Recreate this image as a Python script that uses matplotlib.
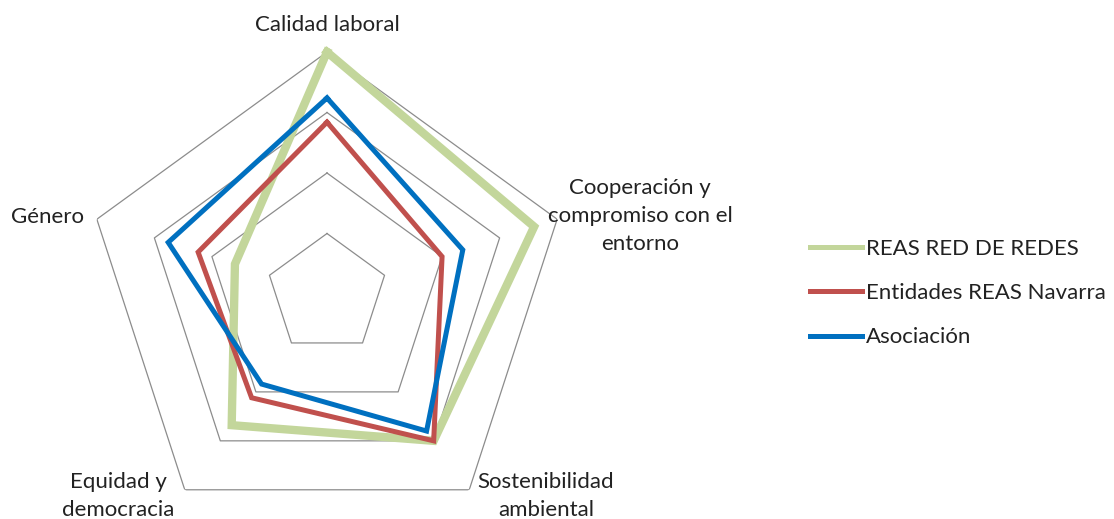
import numpy as np
import matplotlib
matplotlib.use("Agg")
import matplotlib.pyplot as plt

categories = ["Calidad laboral", "Cooperación y\ncompromiso con el\nentorno",
              "Sostenibilidad\nambiental", "Equidad y\ndemocracia", "Género"]
series_names = ["REAS RED DE REDES", "Entidades REAS Navarra", "Asociación"]
reas_red = [100, 90, 75, 67, 40]
navarra = [71, 50, 75, 53, 56]
asociacion = [81, 59, 70, 46, 69]
ring_values = [25, 50, 75, 100]

colors = ["#C3D69B", "#C0504D", "#0070C0"]
widths = [6, 3.6, 3.6]

plt.rcParams['font.family'] = ['Lato', 'DejaVu Sans']

W, H = 1114, 519
fig = plt.figure(figsize=(W / 100, H / 100), dpi=100)
cx, cy, R = 327, 294, 242
ax = fig.add_axes([(cx - R) / W, (H - cy - R) / H, 2 * R / W, 2 * R / H], projection='polar')
ax.set_theta_offset(np.pi / 2)
ax.set_theta_direction(-1)
ax.set_ylim(0, 100)
ax.set_frame_on(False)
ax.grid(False)
ax.set_xticks([])
ax.set_yticks([])
ax.patch.set_alpha(0)

n = len(categories)
theta = np.arange(n) * 2 * np.pi / n
tc = np.append(theta, theta[0])

for rv in ring_values:
    ax.plot(tc, [rv] * (n + 1), color="#8C8C8C", lw=0.9, zorder=1)

handles = []
for vals, name, c, w in zip([reas_red, navarra, asociacion], series_names, colors, widths):
    v = np.append(vals, vals[0])
    h, = ax.plot(tc, v, color=c, lw=w, solid_joinstyle='miter', zorder=3, label=name, clip_on=False)
    handles.append(h)

fs = 16
label_pos = [(327, 25), (640, 216), (546, 496), (118, 496), (48, 217)]
for lab, (x, y) in zip(categories, label_pos):
    fig.text(x / W, 1 - y / H, lab, ha='center', va='center', fontsize=fs, color="#222222",
             linespacing=1.5)

leg = fig.legend(handles=handles, labels=series_names, loc='center left',
                 bbox_to_anchor=(810 / W, 1 - 293 / H), frameon=False, fontsize=fs,
                 handlelength=2.35, handletextpad=0.15, labelspacing=1.1, borderaxespad=0,
                 borderpad=0)
for lh, c in zip(leg.get_lines(), colors):
    lh.set_linewidth(3.6)
for t in leg.get_texts():
    t.set_color("#222222")

fig.savefig("out.png", dpi=100)
